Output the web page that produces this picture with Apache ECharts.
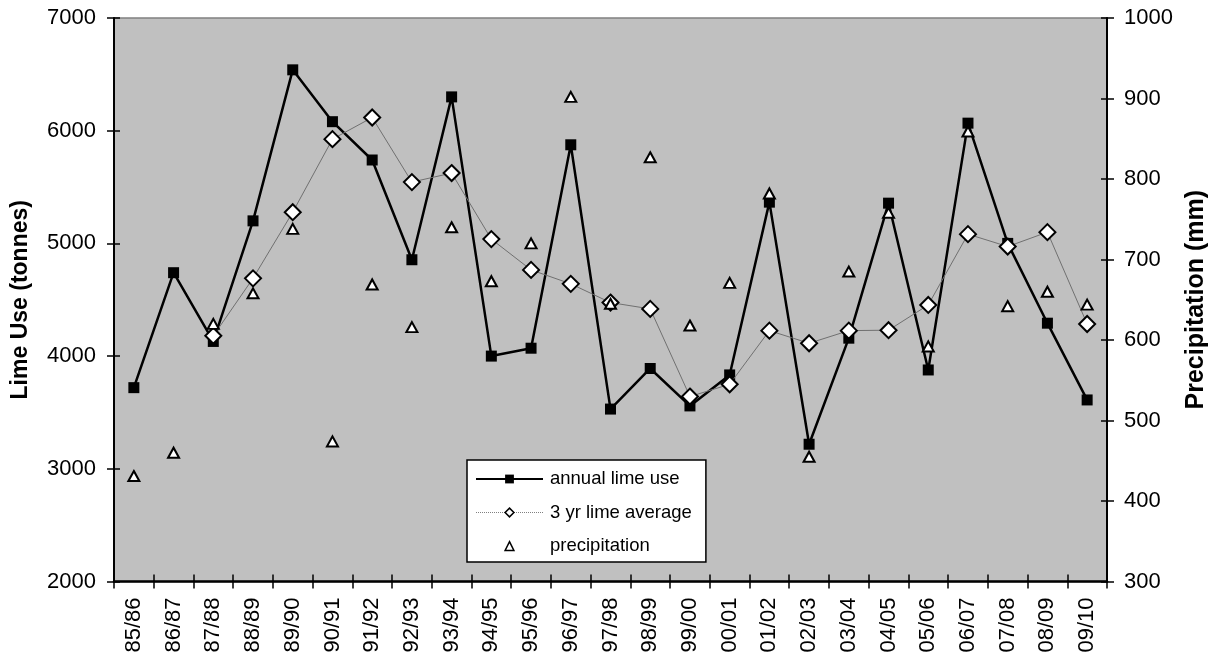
<!DOCTYPE html>
<html>
<head>
<meta charset="utf-8">
<script src="https://cdn.jsdelivr.net/npm/echarts@6/dist/echarts.min.js"></script>
<style>
html,body{margin:0;padding:0;background:#fff;}
#chart{width:1209px;height:659px;}
</style>
</head>
<body>
<div id="chart"></div>
<script>
// ---- data ----
const categories = ['85/86','86/87','87/88','88/89','89/90','90/91','91/92','92/93','93/94','94/95','95/96','96/97','97/98','98/99','99/00','00/01','01/02','02/03','03/04','04/05','05/06','06/07','07/08','08/09','09/10'];
const limeUse = [3720, 4740, 4130, 5200, 6540, 6080, 5740, 4855, 6300, 4000, 4070, 5875, 3530, 3890, 3558, 3833, 5366, 3218, 4159, 5357, 3877, 6067, 5000, 4292, 3611];
const limeAverage = [null, null, 4180, 4690, 5277, 5925, 6117, 5544, 5624, 5038, 4765, 4641, 4475, 4419, 3641, 3750, 4226, 4114, 4226, 4230, 4454, 5082, 4972, 5100, 4285];
const precipitation = [431, 460, 620, 658, 738, 474, 669, 616, 740, 673, 720, 902, 645, 827, 618, 671, 782, 455, 685, 758, 592, 859, 642, 660, 644];
const seriesNames = ['annual lime use', '3 yr lime average', 'precipitation'];
const leftAxisTicks = {min: 2000, max: 7000, interval: 1000};
const rightAxisTicks = {min: 300, max: 1000, interval: 100};
const axisTitles = {left: 'Lime Use (tonnes)', right: 'Precipitation (mm)'};

const FONT = "'Liberation Sans', Arial, sans-serif";
const labelStyle = {color: '#000', fontFamily: FONT, fontSize: 22};

const chart = echarts.init(document.getElementById('chart'), null, {renderer: 'canvas'});

function yAxisPair(ticks, position, name, nameGap, margin, nameSize) {
  return [
    {
      type: 'value', position: position, min: ticks.min, max: ticks.max, interval: ticks.interval,
      name: name, nameLocation: 'middle', nameRotate: 90, nameGap: nameGap,
      nameTextStyle: {color: '#000', fontFamily: FONT, fontSize: nameSize, fontWeight: 'bold'},
      axisLine: {show: true, lineStyle: {color: '#000', width: 2}},
      axisTick: {show: true, inside: false, length: 7, lineStyle: {color: '#000', width: 1.5}},
      axisLabel: Object.assign({margin: margin, formatter: v => String(v)}, labelStyle),
      splitLine: {show: false}
    },
    {
      type: 'value', position: position, min: ticks.min, max: ticks.max, interval: ticks.interval,
      axisLine: {show: false},
      axisTick: {show: true, inside: true, length: 6, lineStyle: {color: '#000', width: 1.5}},
      axisLabel: {show: false},
      splitLine: {show: false}
    }
  ];
}

const yAxes = yAxisPair(leftAxisTicks, 'left', axisTitles.left, 82, 18, 23)
  .concat(yAxisPair(rightAxisTicks, 'right', axisTitles.right, 74, 17, 25));

const option = {
  animation: false,
  backgroundColor: '#fff',
  grid: {
    left: 114, right: 102, top: 18, bottom: 77.5,
    show: true, backgroundColor: '#c0c0c0', borderColor: '#808080', borderWidth: 1.5,
    containLabel: false, outerBoundsMode: 'none'
  },
  legend: {
    orient: 'vertical', left: 467, top: 460,
    backgroundColor: '#fff', borderColor: '#000', borderWidth: 1.5,
    padding: [8, 14, 5, 8],
    itemWidth: 67, itemHeight: 11, itemGap: 11.5,
    selectedMode: false,
    textStyle: {color: '#000', fontFamily: FONT, fontSize: 18.5, lineHeight: 22, padding: [0, 0, 0, 2]},
    data: [
      {name: seriesNames[0]},
      {name: seriesNames[1], lineStyle: {type: 'dotted', color: '#808080', width: 1}, itemStyle: {borderWidth: 1.5}},
      {name: seriesNames[2], itemStyle: {borderWidth: 1.5}}
    ]
  },
  xAxis: [
    {
      type: 'category', data: categories, boundaryGap: true, position: 'bottom',
      axisLine: {show: true, onZero: false, lineStyle: {color: '#000', width: 2.5}},
      axisTick: {show: true, inside: false, length: 7, interval: 0, lineStyle: {color: '#000', width: 1.5}},
      axisLabel: Object.assign({rotate: 90, interval: 0, margin: 16}, labelStyle),
      splitLine: {show: false}
    },
    {
      type: 'category', data: categories, boundaryGap: true, position: 'bottom',
      axisLine: {show: false, onZero: false},
      axisTick: {show: true, inside: true, length: 7, interval: 0, lineStyle: {color: '#000', width: 1.5}},
      axisLabel: {show: false},
      splitLine: {show: false}
    }
  ],
  yAxis: yAxes,
  series: [
    {
      name: seriesNames[0], type: 'line', xAxisIndex: 0, yAxisIndex: 0, data: limeUse,
      symbol: 'rect', symbolSize: 11, showAllSymbol: true,
      lineStyle: {color: '#000', width: 2.5},
      itemStyle: {color: '#000', borderColor: '#000', borderWidth: 0},
      z: 3
    },
    {
      name: seriesNames[1], type: 'line', xAxisIndex: 0, yAxisIndex: 0, data: limeAverage,
      symbol: 'diamond', symbolSize: 16, showAllSymbol: true, connectNulls: false,
      lineStyle: {color: '#707070', width: 1},
      itemStyle: {color: '#fff', borderColor: '#000', borderWidth: 2},
      z: 4
    },
    {
      name: seriesNames[2], type: 'line', xAxisIndex: 0, yAxisIndex: 2, data: precipitation,
      symbol: 'triangle', symbolSize: [11, 10], showAllSymbol: true,
      lineStyle: {opacity: 0, width: 0},
      itemStyle: {color: '#fff', borderColor: '#000', borderWidth: 2},
      z: 5
    }
  ]
};
chart.setOption(option);
</script>
</body>
</html>
